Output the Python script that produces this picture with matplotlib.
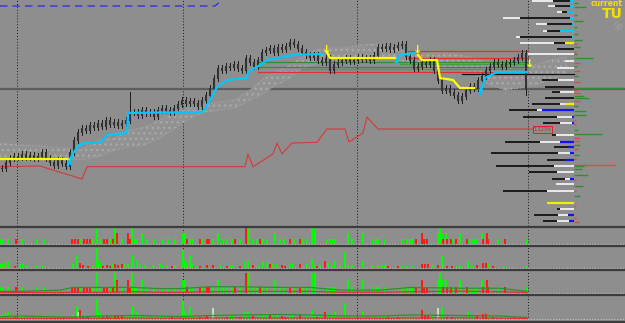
import matplotlib
matplotlib.use("Agg")
import matplotlib.pyplot as plt
from matplotlib.lines import Line2D

BG = '#8e8e8e'
W, H = 625, 323          # chart units follow the terminal's screen grid
MAIN_BOTTOM = 226
plt.rcParams['hatch.linewidth'] = 1.0

# ---------------- price (y grows downward, as on the terminal) ----------------
bar_x0, bar_step = 2, 4
close_y = [168, 162, 158, 156, 157, 154, 157, 155, 158, 156,
           152, 158, 162, 165, 160, 163, 166, 152, 140, 132,
           128, 130, 125, 127, 123, 126, 120, 124, 122, 125,
           123, 120, 112, 112, 115, 110, 113, 112, 116, 110,
           108, 110, 112, 108, 104, 100, 103, 101, 103, 106,
           100, 95, 88, 78, 68, 70, 66, 67, 64, 68,
           70, 58, 62, 66, 60, 52, 50, 48, 52, 47,
           49, 46, 42, 44, 48, 52, 55, 57, 55, 60,
           62, 58, 70, 64, 62, 60, 58, 61, 60, 57,
           59, 58, 60, 55, 47, 48, 46, 49, 47, 45,
           44, 56, 60, 68, 66, 62, 64, 60, 70, 80,
           90, 88, 92, 95, 100, 96, 90, 86, 88, 80,
           76, 70, 66, 62, 64, 66, 63, 62, 60, 57,
           53, 88]
spike_x = [130, 526]
spike_y = [92, 95]

# ichimoku-like cloud
cloud_x = [0, 20, 40, 60, 80, 100, 115, 130, 145, 160, 175, 190, 205, 220, 235,
           250, 262, 275, 290, 300, 315, 330, 345, 360, 375, 390, 405, 420, 440,
           460, 475, 490, 505, 520, 535, 550, 567]
cloud_top = [143, 145, 146, 148, 150, 140, 138, 130, 127, 120, 112, 108, 104, 102, 100,
             90, 80, 72, 65, 58, 50, 48, 48, 45, 44, 46, 52, 55, 52,
             55, 58, 65, 68, 70, 65, 60, 57]
cloud_bot = [158, 157, 155, 157, 160, 156, 150, 147, 145, 138, 128, 118, 112, 110, 108,
             100, 94, 86, 78, 70, 64, 60, 58, 56, 55, 58, 62, 68, 68,
             70, 75, 85, 90, 88, 85, 80, 72]

# trailing stops
cyan_a_x = [68, 72, 78, 85, 100, 107, 127, 128, 203, 210, 217, 227, 247, 248, 260, 267, 293, 322]
cyan_a_y = [165, 155, 146, 143, 143, 135, 133, 113, 112, 100, 87, 80, 78, 72, 65, 60, 55, 54]
cyan_b_x = [396, 400, 415]
cyan_b_y = [62, 55, 53]
cyan_c_x = [480, 485, 497, 527]
cyan_c_y = [93, 78, 72, 72]
yellow_a_x = [0, 70]
yellow_a_y = [158.5, 158.5]
yellow_b_x = [327, 330, 395]
yellow_b_y = [52, 58, 58]
yellow_c_x = [418, 422, 437, 440, 453, 460, 474]
yellow_c_y = [55, 60, 60, 78, 80, 88, 88]
arrow_dn_x = [327, 418, 530]
arrow_dn_y = [50, 50, 64]
arrow_up_x = [71, 398, 481]
arrow_up_y = [162, 62, 93]

# lower red line
red_x = [0, 40, 82, 87, 245, 248, 253, 273, 277, 282, 292, 317, 327, 345, 349, 363, 367, 378, 533]
red_y = [166.7, 166, 179, 166.7, 166.7, 154, 166.7, 154, 143, 154, 143, 142.3, 129, 129, 142, 133, 117, 129, 129]

# horizontal levels
level_y = [50.5, 58, 61.5, 63.5, 66.5, 69, 72, 73.8]
level_x0 = [408, 408, 258, 400, 258, 300, 258, 462]
level_x1 = [528, 528, 528, 528, 528, 528, 528, 574]
level_c = ['#e03030', '#e03030', '#2f8f2f', '#3f9f3f', '#2f8f2f', '#4f9a4f', '#e03030', '#111111']
price_line_y = 89
blue_dash_x = [0, 215, 222]
blue_dash_y = [6, 6, 0]
grid_x = [17, 183, 357, 528]

# right-side profile rows
prof_y = [1, 6, 12, 18, 24, 31, 37, 43, 49, 54, 61, 68, 80, 87, 92, 98, 104,
          110, 117, 123, 135, 142, 147, 153, 160, 166, 172, 179, 184, 191, 203, 209, 215, 221]
prof_x0 = [532, 548, 557, 503, 536, 543, 516, 520, 557, 528, 565, 557, 542, 545, 552, 545, 532,
           509, 523, 543, 552, 505, 554, 491, 547, 496, 529, 552, 556, 503, 547, 557, 534, 543]
prof_x1 = [553, 555, 562, 520, 547, 547, 520, 554, 557, 574, 565, 557, 558, 574, 560, 574, 560,
           537, 557, 560, 556, 540, 568, 558, 565, 554, 557, 565, 556, 547, 547, 560, 558, 557]
prof_x2 = [570, 570, 567, 570, 572, 560, 572, 565, 574, 574, 574, 574, 574, 574, 574, 574, 565,
           542, 572, 572, 574, 560, 568, 570, 565, 574, 574, 570, 574, 574, 547, 574, 568, 569]
prof_tail = ['c', 'c', 'c', 'c', 'c', 'c', 'c', 'y', '', '', '', '', '', '', '', '', 'y',
             'b', 'b', 'b', '', 'b', 'b', 'b', 'b', '', '', 'b', '', '', 'y', '', 'b', 'b']
side_y = [3, 7, 15, 21, 27, 34, 40, 44, 47, 52, 54, 58, 63, 66, 71, 76, 82, 88, 90, 93,
          96, 98, 101, 106, 111, 115, 120, 124, 130, 134, 138, 141, 145, 149, 155, 159,
          165, 166, 169, 175, 180, 186, 191, 196, 206, 218, 222]
side_len = [4, 12, 3, 9, 3, 4, 8, 3, 6, 2, 3, 19, 6, 3, 6, 4, 6, 49, 4, 6,
            10, 15, 6, 4, 12, 12, 2, 2, 4, 28, 6, 5, 6, 4, 5, 2,
            41, 10, 8, 14, 2, 9, 2, 6, 2, 2, 5]
side_c = ['g', 'g', 'g', 'g', 'g', 'g', 'g', 'r', 'g', 'r', 'g', 'g', 'r', 'g', 'r', 'g', 'r', 'g', 'r', 'r',
          'g', 'g', 'r', 'g', 'g', 'g', 'r', 'r', 'g', 'g', 'r', 'r', 'g', 'r', 'g', 'r',
          'r', 'g', 'g', 'g', 'r', 'g', 'r', 'g', 'r', 'r', 'r']

# ---------------- volume panels ----------------
vol1_x = [1, 3, 8, 16, 22, 37, 44, 72, 75, 78, 81, 84, 87, 90, 93, 97, 100, 104, 107, 110, 113,
          115, 117, 122, 128, 130, 132, 135, 137, 142, 147, 154, 163, 168, 175, 183, 185, 187,
          190, 193, 200, 202, 207, 209, 213, 218, 223, 227, 232, 235, 240, 246, 249, 253, 257,
          260, 263, 267, 275, 280, 284, 290, 294, 300, 303, 307, 312, 315, 327, 330, 333, 335,
          348, 352, 363, 373, 376, 378, 385, 402, 407, 410, 412, 416, 422, 424, 427, 438, 440,
          442, 443, 446, 447, 451, 453, 456, 460, 467, 469, 472, 475, 477, 482, 483, 487, 488,
          498, 505, 527]
vol1_h = [5, 5, 5, 5, 5, 5, 5, 5, 5, 5, 5, 5, 5, 5, 5, 17, 5, 5, 5, 5, 5,
          17, 11, 5, 11, 5, 17, 5, 5, 11, 5, 5, 5, 5, 5, 11, 11, 5,
          5, 5, 5, 5, 5, 5, 5, 11, 5, 5, 5, 5, 5, 17, 17, 5, 5,
          5, 5, 5, 11, 5, 5, 5, 5, 5, 5, 5, 17, 17, 5, 5, 5, 5,
          11, 5, 11, 5, 5, 5, 5, 5, 5, 5, 5, 5, 11, 5, 5, 11, 17,
          11, 5, 11, 5, 5, 5, 5, 11, 5, 5, 5, 5, 5, 11, 5, 11, 5,
          5, 5, 5]
vol1_c = ['g', 'g', 'g', 'r', 'g', 'g', 'g', 'r', 'r', 'r', 'g', 'r', 'r', 'r', 'g', 'g', 'g', 'r', 'r', 'g', 'r',
          'g', 'r', 'g', 'r', 'r', 'g', 'g', 'g', 'g', 'g', 'g', 'g', 'g', 'g', 'g', 'g', 'r',
          'g', 'g', 'r', 'g', 'r', 'r', 'g', 'g', 'g', 'g', 'g', 'r', 'g', 'r', 'g', 'g', 'g',
          'r', 'g', 'g', 'g', 'g', 'g', 'r', 'g', 'r', 'g', 'g', 'g', 'g', 'g', 'g', 'g', 'g',
          'g', 'g', 'g', 'g', 'g', 'g', 'g', 'g', 'g', 'g', 'g', 'r', 'r', 'r', 'r', 'g', 'g',
          'g', 'r', 'g', 'r', 'r', 'g', 'r', 'g', 'r', 'g', 'g', 'g', 'g', 'g', 'r', 'r', 'r',
          'g', 'r', 'g']

vol2_x = [1, 3, 5, 8, 15, 20, 23, 27, 37, 43, 73, 77, 80, 83, 88, 93, 97, 98, 100, 103, 107,
          110, 113, 115, 118, 122, 125, 128, 132, 133, 137, 140, 145, 153, 160, 163, 167, 172,
          175, 183, 185, 187, 190, 192, 197, 200, 207, 213, 220, 227, 230, 233, 240, 245, 248,
          253, 258, 263, 267, 270, 273, 277, 282, 285, 290, 293, 300, 307, 312, 315, 317, 320,
          325, 328, 332, 335, 340, 345, 348, 352, 363, 372, 378, 382, 385, 388, 398, 402, 407,
          412, 422, 425, 428, 433, 438, 442, 443, 447, 452, 457, 460, 468, 472, 477, 483, 486,
          489, 493, 504, 527]
vol2_h = [4, 4, 6, 7, 2, 4, 4, 3, 3, 3, 4, 13, 5, 3, 2, 3, 20, 8, 5, 2, 3,
          2, 4, 4, 3, 4, 4, 4, 8, 13, 8, 3, 3, 3, 4, 3, 3, 2,
          3, 18, 8, 5, 12, 4, 2, 2, 3, 3, 3, 2, 3, 3, 2, 7, 7,
          3, 3, 6, 6, 4, 4, 4, 3, 2, 4, 4, 4, 4, 9, 3, 2, 3,
          7, 5, 3, 7, 3, 16, 3, 3, 7, 3, 3, 3, 3, 2, 2, 2, 2,
          2, 4, 4, 4, 3, 3, 12, 6, 2, 2, 2, 3, 7, 3, 3, 5, 5,
          4, 2, 2, 2]
vol2_c = ['g', 'g', 'g', 'g', 'r', 'g', 'g', 'g', 'g', 'g', 'g', 'g', 'r', 'r', 'r', 'g', 'g', 'g', 'g', 'r', 'r',
          'r', 'g', 'r', 'r', 'r', 'g', 'g', 'g', 'g', 'g', 'g', 'g', 'g', 'g', 'g', 'g', 'r',
          'g', 'g', 'g', 'g', 'g', 'g', 'g', 'r', 'r', 'r', 'g', 'r', 'g', 'g', 'r', 'g', 'g',
          'r', 'g', 'g', 'g', 'r', 'g', 'g', 'r', 'r', 'g', 'g', 'r', 'g', 'g', 'g', 'r', 'g',
          'r', 'g', 'g', 'g', 'g', 'g', 'g', 'g', 'g', 'g', 'g', 'g', 'g', 'r', 'r', 'g', 'g',
          'g', 'r', 'r', 'r', 'g', 'r', 'g', 'g', 'r', 'r', 'g', 'g', 'g', 'g', 'r', 'r', 'r',
          'g', 'r', 'g', 'g']

# extra pale / tall bars of the last panel
p4_x = [78, 80, 213, 422, 438]
p4_h = [7, 9, 11, 9, 11]
p4_c = ['p', 'r', 'p', 'r', 'p']

ma_x = [0, 20, 60, 73, 100, 133, 160, 180, 210, 240, 280, 310, 343, 380, 410, 460, 500, 527]
ma3_g = [1.3, 1.3, 2.3, 4.7, 4.7, 4.7, 3.7, 3.7, 5.3, 5.3, 4.7, 4.7, 2.3, 2.3, 4.7, 4, 4, 1.3]
ma3_r = [0.3, 0.3, 0.3, 0.5, 0.5, 1, 0.5, 0.5, 1, 1.3, 1.3, 1.3, 0.5, 0.5, 1, 1.5, 1, 0.3]
ma4_g = [2.3, 3, 2, 2, 3, 3.5, 3, 2.5, 3.5, 4, 4.5, 4, 3, 3, 4, 3.5, 3, 1.5]
ma4_r = [0.7, 0.7, 0.5, 0.7, 0.8, 1, 0.8, 0.7, 1, 1.2, 1, 1, 0.7, 0.7, 1, 1.2, 0.8, 0.5]

COL = {'g': '#00ff00', 'r': '#ff1a1a', 'p': '#b8e6b8', 'c': '#00c8ff', 'b': '#1010ff',
       'y': '#f0f000'}
SIDE = {'g': '#2f8f2f', 'r': '#e04848'}

fig = plt.figure(figsize=(6.25, 3.23), dpi=100, facecolor=BG)


def px_axes(top, bottom):
    a = fig.add_axes([0, 1 - bottom / H, 1, (bottom - top) / H])
    a.set_xlim(0, W)
    a.axis('off')
    return a


# ---------------- main chart ----------------
ax = px_axes(0, MAIN_BOTTOM)
ax.set_ylim(MAIN_BOTTOM, 0)

for gx in grid_x:
    ax.axvline(gx, color='#1a1a1a', ls=(0, (1, 2)), lw=0.7, zorder=1)
ax.axhline(price_line_y, color='#5e5e5e', lw=1.6, zorder=1)
ax.plot(blue_dash_x, blue_dash_y, color='#2a2ae6', lw=0.9, ls=(0, (6, 4)), zorder=2)

ax.fill_between(cloud_x, cloud_top, cloud_bot, facecolor='#929292', hatch='...',
                edgecolor='#a9a9a9', linewidth=0, zorder=2)
ax.plot(cloud_x, cloud_top, color='#a8a8a8', lw=0.8, ls=':', zorder=2)
ax.plot(cloud_x, cloud_bot, color='#a8a8a8', lw=0.8, ls=':', zorder=2)

for y, x0, x1, c in zip(level_y, level_x0, level_x1, level_c):
    ax.plot([x0, x1], [y, y], color=c, lw=0.9, zorder=3)

ax.plot(red_x, red_y, color='#d43a3a', lw=0.8, zorder=3)

# candles
prev = close_y[0]
for i, c in enumerate(close_y):
    x = bar_x0 + bar_step * i
    top, bot = min(prev, c), max(prev, c)
    hi, lo = top - 3, bot + 3
    if x in spike_x:
        sy = spike_y[spike_x.index(x)]
        hi, lo = min(hi, sy), max(lo, sy)
    ax.plot([x, x], [hi, lo], color='#1c1c1c', lw=0.7, zorder=4)
    ax.plot([x, x], [top - 0.5, bot + 0.5], color='#333333', lw=1.5,
            solid_capstyle='butt', zorder=4)
    prev = c

for xs, ys in [(cyan_a_x, cyan_a_y), (cyan_b_x, cyan_b_y), (cyan_c_x, cyan_c_y)]:
    ax.plot(xs, ys, color=COL['c'], lw=1.6, zorder=5)
for xs, ys in [(yellow_a_x, yellow_a_y), (yellow_b_x, yellow_b_y), (yellow_c_x, yellow_c_y)]:
    ax.plot(xs, ys, color='#ffff00', lw=1.6, zorder=5)
for x, y in zip(arrow_dn_x, arrow_dn_y):
    ax.text(x, y, '\u2193', color='#ffff00', fontsize=8, fontweight='bold',
            ha='center', va='center', zorder=6)
for x, y in zip(arrow_up_x, arrow_up_y):
    ax.text(x, y, '\u2191', color=COL['c'], fontsize=8, fontweight='bold',
            ha='center', va='center', zorder=6)

# right-hand profile
above = 58
for y, x0, x1, x2, t in zip(prof_y, prof_x0, prof_x1, prof_x2, prof_tail):
    first, second = ('#f2f2f2', '#111111') if y < above else ('#111111', '#f2f2f2')
    if x1 > x0:
        ax.plot([x0, min(x1, x2)], [y, y], color=first, lw=1.3, solid_capstyle='butt', zorder=5)
    if x2 > x1:
        ax.plot([max(x1, x0), x2], [y, y], color=second, lw=1.3, solid_capstyle='butt', zorder=5)
    if t and x2 < 574:
        ax.plot([x2, 574], [y, y], color=COL[t], lw=1.6, solid_capstyle='butt', zorder=5)
for y, ln, c in zip(side_y, side_len, side_c):
    ax.plot([574, 574 + ln], [y, y], color=SIDE[c], lw=1.0, solid_capstyle='butt', zorder=5)

ax.text(542.5, 129.5, '1.1234', color='#e02020', fontsize=3.6, ha='center', va='center',
        bbox=dict(boxstyle='square,pad=0.25', facecolor='none', edgecolor='#e02020', lw=0.7),
        zorder=6)

ax.text(623, 6.5, 'current', color='#f2e000', fontsize=5.5, fontweight='bold',
        ha='right', va='baseline', zorder=7)
ax.text(623, 18.5, 'TU', color='#f2e000', fontsize=10, fontweight='bold',
        ha='right', va='baseline', zorder=7)
ax.text(623, 29, 'Sp', color='#a2a2a2', fontsize=5.5, ha='right', va='baseline', zorder=7)

# ---------------- volume panels ----------------
panels = [(227, 245, 17, vol1_x, vol1_h, vol1_c),
          (247, 269, 21, vol2_x, vol2_h, vol2_c),
          (271, 294, 19, vol1_x, vol1_h, vol1_c),
          (296, 320, 23, vol2_x, vol2_h, vol2_c)]
subs = []
for top, bottom, ymax, xs, hs, cs in panels:
    s = px_axes(top, bottom)
    s.set_ylim(-1, ymax)
    for gx in grid_x:
        s.axvline(gx, color='#1a1a1a', ls=(0, (1, 2)), lw=0.7, zorder=1)
    s.bar(xs, hs, width=2.6, color=[COL[c] for c in cs], linewidth=0, zorder=2)
    s.axhline(0, color='#c4c4c4', ls=(0, (1, 1.5)), lw=0.8, zorder=3)
    subs.append(s)

subs[2].plot(ma_x, ma3_g, color='#2f8f2f', lw=0.9, zorder=4)
subs[2].plot(ma_x, ma3_r, color='#e03030', lw=0.9, zorder=4)
subs[3].bar(p4_x, p4_h, width=2.6, color=[COL[c] for c in p4_c], linewidth=0, zorder=2)
subs[3].plot(ma_x, ma4_g, color='#2f8f2f', lw=0.9, zorder=4)
subs[3].plot(ma_x, ma4_r, color='#e03030', lw=0.9, zorder=4)

# panel separators
for y in [226.5, 245.8, 270.2, 295.2, 321.5]:
    fig.add_artist(Line2D([0, 1], [1 - y / H, 1 - y / H], transform=fig.transFigure,
                          color='#3c3c3c', lw=1.6))

fig.savefig('out.png', dpi=100, facecolor=BG)
